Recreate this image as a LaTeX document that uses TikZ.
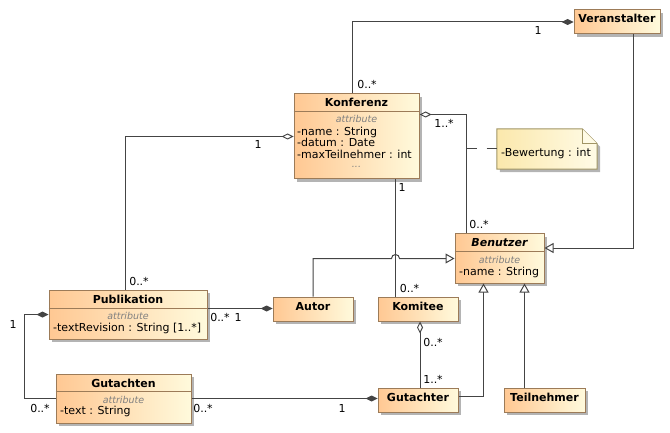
\documentclass[tikz,border=0pt]{standalone}
\usepackage{fontspec}
\setmainfont{DejaVu Sans}
\usetikzlibrary{arrows.meta,shadows,calc}
\definecolor{clsL}{HTML}{FFC893}
\definecolor{clsR}{HTML}{FFFADC}
\definecolor{clsB}{HTML}{9C7B58}
\definecolor{noteL}{HTML}{FBE8AC}
\definecolor{noteR}{HTML}{FFFBE6}
\definecolor{noteB}{HTML}{A19565}
\definecolor{lineC}{HTML}{444444}
\definecolor{shadowC}{HTML}{B4B4B4}
\definecolor{attrC}{HTML}{808080}
\begin{document}
\begin{tikzpicture}[x=1pt,y=-1pt,
  every node/.style={font=\fontsize{11}{13}\selectfont},
  cls/.style={draw=clsB, line width=1pt, left color=clsL, right color=clsR, inner sep=0pt,
    drop shadow={shadow xshift=3pt, shadow yshift=-3pt, fill=shadowC, opacity=1}},
  clsname/.style={inner sep=0pt, anchor=base, font=\bfseries\fontsize{11}{13}\selectfont},
  attrhead/.style={inner sep=0pt, anchor=base, text=attrC, font=\itshape\fontsize{9.5}{11}\selectfont},
  attr/.style={inner sep=0pt, anchor=base west},
  sep/.style={draw=clsB, line width=1pt},
  assoc/.style={draw=lineC, line width=1pt},
  mult/.style={inner sep=0pt, anchor=base},
  fdia/.style={-{Diamond[length=12pt,width=6pt,fill=lineC]}},
  odia/.style={{Diamond[open,length=12pt,width=6pt,fill=white]}-},
  fdiastart/.style={{Diamond[length=12pt,width=6pt,fill=lineC]}-},
  gen/.style={-{Triangle[open,length=9pt,width=10pt,fill=white]}},
]
\useasboundingbox (0,0) rectangle (670,433);

% ---------- classes ----------
\node[cls, minimum width=86pt, minimum height=24pt] (veran) at (617,22) {};
\node[clsname] at (617,23) {Veranstalter};

\node[cls, minimum width=125pt, minimum height=85pt] (konf) at (356.5,136.5) {};
\draw[sep] ($(konf.north west)+(0,18)$) -- ($(konf.north east)+(0,18)$);
\node[clsname] at (356.5,107) {Konferenz};
\node[attrhead] at (356.5,123) {attribute};
\node[attr] at (297,135.5) {-name : String};
\node[attr] at (297,147) {-datum : Date};
\node[attr] at (297,158.5) {-maxTeilnehmer : int};
\node[attrhead] at (356.5,168) {...};

\node[cls, minimum width=89pt, minimum height=49pt] (benu) at (499.5,258.5) {};
\draw[sep] ($(benu.north west)+(0,18)$) -- ($(benu.north east)+(0,18)$);
\node[clsname, font=\bfseries\itshape\fontsize{11}{13}\selectfont] at (499.5,247) {Benutzer};
\node[attrhead] at (499.5,263) {attribute};
\node[attr] at (459,275) {-name : String};

\node[cls, minimum width=158pt, minimum height=49pt] (publ) at (128,314.5) {};
\draw[sep] ($(publ.north west)+(0,19)$) -- ($(publ.north east)+(0,19)$);
\node[clsname] at (128,303) {Publikation};
\node[attrhead] at (128,319) {attribute};
\node[attr] at (53,331) {-textRevision : String [1..*]};

\node[cls, minimum width=135pt, minimum height=49pt] (guten) at (123.5,398.5) {};
\draw[sep] ($(guten.north west)+(0,18)$) -- ($(guten.north east)+(0,18)$);
\node[clsname] at (123.5,387) {Gutachten};
\node[attrhead] at (123.5,403) {attribute};
\node[attr] at (60,414) {-text : String};

\node[cls, minimum width=80pt, minimum height=24pt] (autor) at (313,309) {};
\node[clsname] at (313,310) {Autor};

\node[cls, minimum width=80pt, minimum height=24pt] (komi) at (418,309) {};
\node[clsname] at (418,310) {Komitee};

\node[cls, minimum width=80pt, minimum height=24pt] (gutr) at (418,400) {};
\node[clsname] at (418,401) {Gutachter};

\node[cls, minimum width=81pt, minimum height=24pt] (teil) at (544.5,400) {};
\node[clsname] at (544.5,401) {Teilnehmer};

% ---------- note ----------
\node[inner sep=0pt, minimum width=100pt, minimum height=40pt] (note) at (547,149) {};
\path[draw=noteB, line width=1pt, left color=noteL, right color=noteR,
  drop shadow={shadow xshift=3pt, shadow yshift=-3pt, fill=shadowC, opacity=1}]
  (note.north west) -- ($(note.north east)+(-15,0)$) -- ($(note.north east)+(0,15)$)
  -- (note.south east) -- (note.south west) -- cycle;
\path[draw=noteB, line width=1pt, fill=noteR]
  ($(note.north east)+(-15,0)$) -- ($(note.north east)+(-15,15)$) -- ($(note.north east)+(0,15)$);
\node[attr] at (501,157) {-Bewertung : int};

% ---------- connectors ----------
% Konferenz -- Veranstalter
\coordinate (kv) at ($(konf.north west)+(59,0)$);
\draw[assoc, fdia] (kv) |- (veran.west);
\node[mult] at (367,89) {0..*};
\node[mult] at (538,35) {1};

% Konferenz -- Publikation
\coordinate (pk) at ($(publ.north west)+(77,0)$);
\draw[assoc, odia] (konf.west) -| (pk);
\node[mult] at (258,149) {1};
\node[mult] at (139,285) {0..*};

% Konferenz -- Benutzer
\coordinate (kb) at ($(benu.north west)+(12,0)$);
\draw[assoc, odia] ($(konf.north east)+(0,21)$) -| (kb);
\node[mult] at (444,128) {1..*};
\node[mult] at (479,229) {0..*};

% association class dashed link
\coordinate (ac) at (kb |- note.west);
\draw[assoc, dash pattern=on 10pt off 10pt] (ac) -- (note.west);

% Konferenz -- Komitee (with hop)
\coordinate (kk) at ($(konf.south west)+(102,0)$);
\draw[assoc] (kk) -- (kk |- komi.north);
\node[mult] at (402,192) {1};
\node[mult] at (409.5,292) {0..*};

% Autor -> Benutzer
\coordinate (hop) at (kk |- benu.west);
\draw[assoc, gen] (autor.north) |- ($(hop)+(-4,0)$)
  arc[start angle=180, end angle=0, radius=4pt] -- (benu.west);

% Veranstalter -> Benutzer
\coordinate (vb) at ($(veran.south west)+(60,0)$);
\draw[assoc, gen] (vb) |- ($(benu.east)+(0,-10.5)$);

% Publikation -- Autor
\coordinate (pa) at ($(publ.east)+(0,-6)$);
\draw[assoc, fdia] (pa) -- (pa -| autor.west);
\node[mult] at (220,321) {0..*};
\node[mult] at (238,321) {1};

% Publikation -- Gutachten
\draw[assoc, fdiastart] (publ.west) -- ++(-24,0) |- (guten.west);
\node[mult] at (13,328) {1};
\node[mult] at (40,412) {0..*};

% Gutachten -- Gutachter
\draw[assoc, fdia] (guten.east) -- (guten.east -| gutr.west);
\node[mult] at (203,412) {0..*};
\node[mult] at (342,412) {1};

% Komitee -- Gutachter
\coordinate (kg) at ($(komi.south)+(2,0)$);
\draw[assoc, odia] (kg) -- (kg |- gutr.north);
\node[mult] at (433,346) {0..*};
\node[mult] at (433,383) {1..*};

% Gutachter -> Benutzer
\coordinate (gb) at ($(benu.south west)+(29,0)$);
\draw[assoc, gen] ($(gutr.east)+(0,-4)$) -| (gb);

% Teilnehmer -> Benutzer
\coordinate (tb) at ($(benu.south west)+(70,0)$);
\draw[assoc, gen] (tb |- teil.north) -- (tb);
\end{tikzpicture}
\end{document}
